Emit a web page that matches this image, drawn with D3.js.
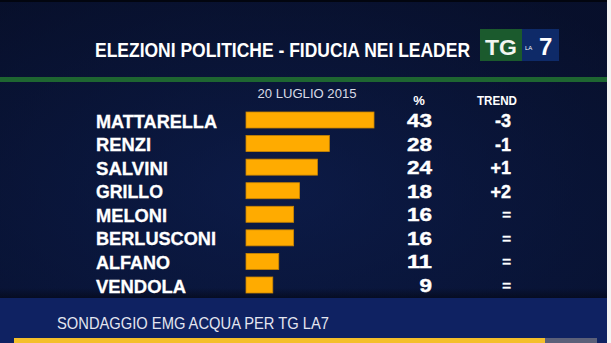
<!DOCTYPE html>
<html><head><meta charset="utf-8">
<script src="https://cdn.jsdelivr.net/npm/d3@7"></script>
<style>html,body{margin:0;padding:0;background:#0a1536;overflow:hidden}</style>
</head><body>
<script>
const title = "ELEZIONI POLITICHE - FIDUCIA NEI LEADER";
const dateLabel = "20 LUGLIO 2015";
const source = "SONDAGGIO EMG ACQUA PER TG LA7";
const leaders = ["MATTARELLA","RENZI","SALVINI","GRILLO","MELONI","BERLUSCONI","ALFANO","VENDOLA"];
const fiducia = [43,28,24,18,16,16,11,9];
const trend = ["-3","-1","+1","+2","=","=","=","="];

const W=611,H=343;
const svg=d3.select("body").append("svg").attr("width",W).attr("height",H);
const defs=svg.append("defs");
const g1=defs.append("linearGradient").attr("id","bg").attr("x1",0).attr("y1",0).attr("x2",0).attr("y2",1);
g1.append("stop").attr("offset","0").attr("stop-color","#0a1434");
g1.append("stop").attr("offset","1").attr("stop-color","#0b1a45");
const g2=defs.append("radialGradient").attr("id","vig").attr("cx","0.45").attr("cy","0.55").attr("r","0.7");
g2.append("stop").attr("offset","0").attr("stop-color","#0d1d4d").attr("stop-opacity",0.6);
g2.append("stop").attr("offset","1").attr("stop-color","#050b22").attr("stop-opacity",0.5);
const g3=defs.append("linearGradient").attr("id","shadow").attr("x1",0).attr("y1",0).attr("x2",0).attr("y2",1);
g3.append("stop").attr("offset","0").attr("stop-color","#050a1c").attr("stop-opacity",0);
g3.append("stop").attr("offset","1").attr("stop-color","#050a1c").attr("stop-opacity",0.8);

svg.append("rect").attr("width",W).attr("height",H).attr("fill","url(#bg)");
svg.append("rect").attr("width",W).attr("height",H).attr("fill","url(#vig)");
svg.append("rect").attr("width",W).attr("height",2).attr("fill","#02050f");

// title
svg.append("text").attr("x",95).attr("y",57).text(title)
  .attr("font-family","Liberation Sans, Arial, sans-serif").attr("font-weight","bold")
  .attr("font-size",21).attr("fill","#ffffff")
  .attr("textLength",375).attr("lengthAdjust","spacingAndGlyphs");

// logo
const logo=svg.append("g");
logo.append("rect").attr("x",480).attr("y",29).attr("width",42).attr("height",32).attr("fill","#1b5a2d");
logo.append("rect").attr("x",522).attr("y",29).attr("width",37).attr("height",32).attr("fill","#0e2a68");
logo.append("text").attr("x",485).attr("y",55).text("TG")
  .attr("font-family","Liberation Sans, Arial, sans-serif").attr("font-weight","900").attr("font-size",22)
  .attr("fill","#f2f6f0").attr("textLength",32).attr("lengthAdjust","spacingAndGlyphs");
logo.append("text").attr("x",525).attr("y",50).text("LA")
  .attr("font-family","Liberation Sans, Arial, sans-serif").attr("font-size",6).attr("fill","#ffffff");
logo.append("text").attr("x",539).attr("y",55).text("7")
  .attr("font-family","Liberation Sans, Arial, sans-serif").attr("font-weight","bold")
  .attr("font-size",24).attr("fill","#ffffff");

// green separator
svg.append("rect").attr("x",0).attr("y",77).attr("width",607).attr("height",5).attr("fill","#1e6631");

// headers
svg.append("text").attr("x",307).attr("y",98).attr("text-anchor","middle").text(dateLabel)
  .attr("font-family","Liberation Sans, Arial, sans-serif").attr("font-size",13.5).attr("fill","#d8dbe6")
  .attr("textLength",99).attr("lengthAdjust","spacingAndGlyphs");
svg.append("text").attr("x",419).attr("y",105).attr("text-anchor","middle").text("%")
  .attr("font-family","Liberation Sans, Arial, sans-serif").attr("font-weight","bold").attr("font-size",13).attr("fill","#ffffff");
svg.append("text").attr("x",497).attr("y",105).attr("text-anchor","middle").text("TREND")
  .attr("font-family","Liberation Sans, Arial, sans-serif").attr("font-weight","bold").attr("font-size",13).attr("fill","#ffffff")
  .attr("textLength",40).attr("lengthAdjust","spacingAndGlyphs");

const y=d3.scalePoint().domain(leaders).range([120,285]);
const x=d3.scaleLinear().domain([0,43]).range([0,128]);
const x0=246;

// shadow above bottom band
svg.append("rect").attr("x",0).attr("y",288).attr("width",607).attr("height",10).attr("fill","url(#shadow)");
// bottom band
svg.append("rect").attr("x",0).attr("y",298).attr("width",607).attr("height",45).attr("fill","#0f2262");

const rows=svg.append("g").selectAll("g").data(leaders).join("g")
  .attr("transform",d=>`translate(0,${y(d)})`);

const nameW={MATTARELLA:121,RENZI:55,SALVINI:72,GRILLO:67,MELONI:71,BERLUSCONI:120,ALFANO:74,VENDOLA:90};
rows.append("text").attr("x",96).attr("y",7.5).text(d=>d)
  .attr("font-family","Liberation Sans, Arial, sans-serif").attr("font-weight","bold").attr("font-size",19)
  .attr("fill","#ffffff").attr("stroke","#ffffff").attr("stroke-width",0.3)
  .attr("textLength",d=>nameW[d]).attr("lengthAdjust","spacingAndGlyphs");

rows.append("rect").attr("x",x0).attr("y",-8).attr("height",16)
  .attr("width",(d,i)=>x(fiducia[i])).attr("fill","#ffab00").attr("stroke","#c98400").attr("stroke-width",0.8);

rows.append("text").attr("x",432).attr("y",7).attr("text-anchor","end").text((d,i)=>fiducia[i])
  .attr("font-family","Liberation Sans, Arial, sans-serif").attr("font-weight","bold").attr("font-size",18)
  .attr("fill","#ffffff").attr("stroke","#ffffff").attr("stroke-width",0.4)
  .attr("textLength",(d,i)=>String(fiducia[i]).length*12.5).attr("lengthAdjust","spacingAndGlyphs");

rows.append("text").attr("x",511).attr("y",(d,i)=>trend[i]==="="?6:7).attr("text-anchor","end").text((d,i)=>trend[i])
  .attr("font-family","Liberation Sans, Arial, sans-serif").attr("font-weight","bold")
  .attr("font-size",(d,i)=>trend[i]==="="?15:18).attr("fill","#ffffff")
  .attr("stroke","#ffffff").attr("stroke-width",0.4);

svg.append("text").attr("x",57).attr("y",329).text(source)
  .attr("font-family","Liberation Sans, Arial, sans-serif").attr("font-size",16.5).attr("fill","#e4e6f0")
  .attr("textLength",272).attr("lengthAdjust","spacingAndGlyphs");
svg.append("rect").attr("x",14).attr("y",338).attr("width",531).attr("height",5).attr("fill","#f4bf2a");
svg.append("rect").attr("x",545).attr("y",338).attr("width",52).attr("height",5).attr("fill","#5b6079");
svg.append("rect").attr("x",607).attr("y",0).attr("width",4).attr("height",H).attr("fill","#f4f4f4");
</script>
</body></html>
